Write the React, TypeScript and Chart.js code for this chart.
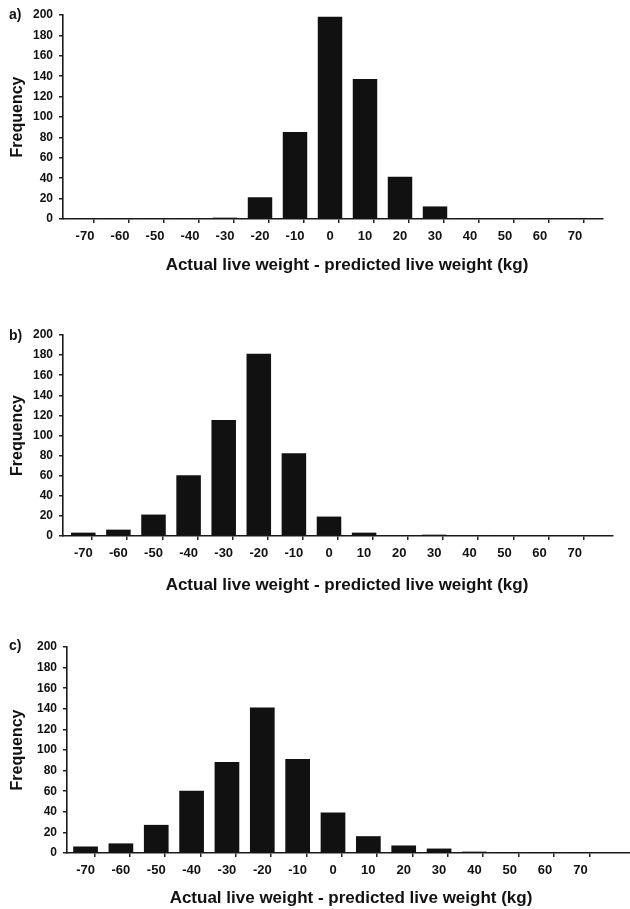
import React, { useEffect, useRef } from 'react';
import { Chart, registerables } from 'chart.js';

Chart.register(...registerables);

// ---- data ----
const bins = [-70, -60, -50, -40, -30, -20, -10, 0, 10, 20, 30, 40, 50, 60, 70];
const freqA = [0, 0, 0, 0, 1, 21, 85, 198, 137, 41, 12, 0, 0, 0, 0];
const freqB = [3, 6, 21, 60, 115, 181, 82, 19, 3, 0, 1, 0, 0, 0, 0];
const freqC = [6, 9, 27, 60, 88, 141, 91, 39, 16, 7, 4, 1, 0, 0, 0];
const binEdges = [-75, -65, -55, -45, -35, -25, -15, -5, 5, 15, 25, 35, 45, 55, 65, 75];
const panelLabels = ['a)', 'b)', 'c)'];
const xTitle = 'Actual live weight - predicted live weight (kg)';
const yTitle = 'Frequency';
const yMin = 0;
const yMax = 200;
const yStep = 20;

const FONT = '"Liberation Sans", Arial, Helvetica, sans-serif';
const INK = '#111111';

type Layout = {
  top: number; height: number; plotTop: number; plotBottom: number;
  axisLeft: number; axisRight: number; zeroPx: number; pxPerUnit: number;
  titleX: number; titleY: number; labelY: number;
};

const layouts: Layout[] = [
  { top: 0, height: 300, plotTop: 15, plotBottom: 219, axisLeft: 63, axisRight: 603, zeroPx: 330, pxPerUnit: 3.5, titleX: 347, titleY: 265, labelY: 15 },
  { top: 300, height: 310, plotTop: 335, plotBottom: 536, axisLeft: 63, axisRight: 613, zeroPx: 329, pxPerUnit: 3.51, titleX: 347, titleY: 585, labelY: 336 },
  { top: 610, height: 299, plotTop: 647, plotBottom: 853, axisLeft: 67, axisRight: 630, zeroPx: 333, pxPerUnit: 3.535, titleX: 351, titleY: 898, labelY: 646 },
];

const series = [freqA, freqB, freqC];

const panelTextPlugin = {
  id: 'panelText',
  afterDraw(chart: any, _args: any, opts: any) {
    const ctx = chart.ctx;
    ctx.save();
    ctx.fillStyle = INK;
    ctx.textBaseline = 'middle';
    ctx.font = `bold 14px ${FONT}`;
    ctx.textAlign = 'left';
    ctx.fillText(opts.label, opts.labelX, opts.labelY);
    ctx.font = `bold 17px ${FONT}`;
    ctx.textAlign = 'center';
    ctx.fillText(opts.title, opts.titleX, opts.titleY);
    ctx.restore();
  },
};

function Panel({ idx }: { idx: number }) {
  const ref = useRef<HTMLCanvasElement | null>(null);
  const L = layouts[idx];

  useEffect(() => {
    if (!ref.current) return;
    const xMin = (L.axisLeft - L.zeroPx) / L.pxPerUnit;
    const xMax = (L.axisRight - L.zeroPx) / L.pxPerUnit;
    const localPlotTop = L.plotTop - L.top;
    const localPlotBottom = L.plotBottom - L.top;
    const xAxisHeight = L.height - localPlotBottom;

    const tickValues = [...bins, ...binEdges]
      .filter((v) => v >= xMin && v <= xMax)
      .sort((a, b) => a - b);

    const chart = new Chart(ref.current, {
      type: 'bar',
      data: {
        datasets: [
          {
            data: bins.map((b, i) => ({ x: b, y: series[idx][i] })),
            backgroundColor: INK,
            borderWidth: 0,
            barThickness: 6.8 * L.pxPerUnit,
          },
        ],
      },
      plugins: [panelTextPlugin as any],
      options: {
        animation: false,
        responsive: false,
        maintainAspectRatio: false,
        layout: {
          padding: { top: localPlotTop, right: 630 - L.axisRight, bottom: 0, left: 0 },
        },
        plugins: {
          legend: { display: false },
          tooltip: { enabled: false },
          title: { display: false },
          panelText: {
            label: panelLabels[idx], labelX: 9, labelY: L.labelY - L.top,
            title: xTitle, titleX: L.titleX, titleY: L.titleY - L.top,
          },
        } as any,
        scales: {
          x: {
            type: 'linear',
            min: xMin,
            max: xMax,
            offset: false,
            afterBuildTicks: (scale: any) => {
              scale.ticks = tickValues.map((v) => ({ value: v }));
            },
            afterFit: (scale: any) => {
              scale.height = xAxisHeight;
            },
            grid: {
              display: true,
              drawOnChartArea: false,
              drawTicks: true,
              tickLength: 4,
              lineWidth: 1.5,
              tickColor: (ctx: any) =>
                ctx.tick && Math.abs(ctx.tick.value % 10) === 5 ? '#222' : 'rgba(0,0,0,0)',
            },
            border: { display: true, color: '#1a1a1a', width: 1.6 },
            ticks: {
              autoSkip: false,
              maxRotation: 0,
              minRotation: 0,
              padding: 6,
              color: INK,
              font: { family: FONT, size: 13, weight: 'bold' },
              callback: (v: any) => (Math.abs(Number(v) % 10) === 0 ? String(v) : ''),
            },
            title: { display: false },
          },
          y: {
            type: 'linear',
            min: yMin,
            max: yMax,
            afterFit: (scale: any) => {
              scale.width = L.axisLeft;
            },
            grid: {
              display: true,
              drawOnChartArea: false,
              drawTicks: true,
              tickLength: 4,
              lineWidth: 1.5,
              tickColor: '#222',
            },
            border: { display: true, color: '#1a1a1a', width: 1.6 },
            ticks: {
              stepSize: yStep,
              padding: 6,
              color: INK,
              font: { family: FONT, size: 12, weight: 'bold' },
            },
            title: {
              display: true,
              text: yTitle,
              color: INK,
              font: { family: FONT, size: 16, weight: 'bold' },
              padding: { top: 8, bottom: 0 },
            },
          },
        },
      } as any,
    });
    return () => chart.destroy();
  }, [idx]);

  return (
    <canvas
      ref={ref}
      width={630}
      height={L.height}
      style={{ position: 'absolute', left: 0, top: L.top, width: 630, height: L.height, display: 'block' }}
    />
  );
}

export default function App() {
  return (
    <div style={{ position: 'absolute', left: 0, top: 0, width: 630, height: 909, background: '#ffffff', overflow: 'hidden' }}>
      <Panel idx={0} />
      <Panel idx={1} />
      <Panel idx={2} />
    </div>
  );
}
